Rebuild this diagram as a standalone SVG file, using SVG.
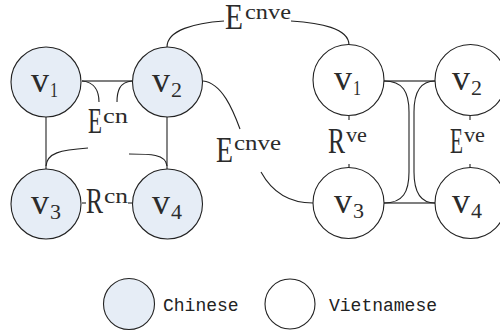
<svg xmlns="http://www.w3.org/2000/svg" width="500" height="334" viewBox="0 0 500 334">
<style>
.cn{fill:#e6edf6;stroke:#222;stroke-width:1.1}
.vn{fill:#fff;stroke:#222;stroke-width:1.1}
.e{fill:none;stroke:#222;stroke-width:1.1}
.g{fill:none;stroke:#555;stroke-width:1.7}
.m{font-family:"Liberation Serif","DejaVu Serif",serif;font-size:36px;fill:#2b2b2b}
.s{font-family:"Liberation Serif","DejaVu Serif",serif;font-size:20px;fill:#2b2b2b}
.p{font-family:"Liberation Serif","DejaVu Serif",serif;font-size:22px;fill:#2b2b2b}
.l{font-family:"Liberation Mono","DejaVu Sans Mono",monospace;font-size:18px;fill:#222}
</style>
<rect width="500" height="334" fill="#fff"/>
<g id="connectors">
<line class="e" x1="46" y1="117" x2="46" y2="169"/>
<line class="e" x1="167" y1="117" x2="167" y2="169"/>
<line class="g" x1="82" y1="81" x2="132" y2="81"/>
<path class="e" d="M82,81 C95,82 99,92 99,102"/>
<path class="e" d="M132,81 C119,82 117,92 117,102"/>
<path class="e" d="M46,166 C47,153 60,150 88,148"/>
<path class="e" d="M129,154 C150,154 166,154 167,166"/>
<line class="e" x1="82" y1="203" x2="86" y2="203"/>
<line class="e" x1="128" y1="203" x2="132" y2="203"/>
<path class="e" d="M167,47 C167,30 195,23 224,21"/>
<path class="e" d="M291,21 C320,23 349,28 349,45"/>
<path class="e" d="M203,81 C222,83 233,110 240,129"/>
<path class="e" d="M261,172 C272,192 290,203 313,203"/>
<line class="g" x1="384" y1="81" x2="435" y2="81"/>
<line class="g" x1="384" y1="203" x2="435" y2="203"/>
<path class="e" d="M384,81 C403,81 409,92 409,112 L409,172 C409,192 403,203 384,203"/>
<path class="e" d="M435,81 C420,81 414,92 414,112 L414,172 C414,192 420,203 435,203"/>
<line class="e" x1="349" y1="116" x2="349" y2="120"/>
<line class="e" x1="349" y1="164" x2="349" y2="168"/>
<line class="e" x1="470" y1="116" x2="470" y2="120"/>
<line class="e" x1="470" y1="164" x2="470" y2="168"/>
</g>
<g id="labels">
<text class="m" x="88" y="133" textLength="14" lengthAdjust="spacingAndGlyphs">E</text>
<text class="p" x="103" y="123" textLength="25" lengthAdjust="spacingAndGlyphs">cn</text>
<text class="m" x="86" y="213" textLength="17" lengthAdjust="spacingAndGlyphs">R</text>
<text class="p" x="104" y="203" textLength="24" lengthAdjust="spacingAndGlyphs">cn</text>
<text class="m" x="225" y="29" textLength="18" lengthAdjust="spacingAndGlyphs">E</text>
<text class="p" x="245" y="19" textLength="46" lengthAdjust="spacingAndGlyphs">cnve</text>
<text class="m" x="216" y="162" textLength="17" lengthAdjust="spacingAndGlyphs">E</text>
<text class="p" x="234" y="150" textLength="47" lengthAdjust="spacingAndGlyphs">cnve</text>
<text class="m" x="328" y="153" textLength="17" lengthAdjust="spacingAndGlyphs">R</text>
<text class="p" x="346" y="142" textLength="21" lengthAdjust="spacingAndGlyphs">ve</text>
<text class="m" x="450" y="153" textLength="13" lengthAdjust="spacingAndGlyphs">E</text>
<text class="p" x="464" y="142" textLength="21" lengthAdjust="spacingAndGlyphs">ve</text>
</g>
<g id="cn-v1"><circle class="cn" cx="46" cy="82" r="35"/><text class="m" x="31" y="92" textLength="18" lengthAdjust="spacingAndGlyphs">v</text><text class="s" x="50" y="97" textLength="8" lengthAdjust="spacingAndGlyphs">1</text></g>
<g id="cn-v2"><circle class="cn" cx="167.5" cy="82" r="35"/><text class="m" x="152" y="92" textLength="18" lengthAdjust="spacingAndGlyphs">v</text><text class="s" x="171" y="97" textLength="11" lengthAdjust="spacingAndGlyphs">2</text></g>
<g id="cn-v3"><circle class="cn" cx="46" cy="204" r="35"/><text class="m" x="31" y="214" textLength="18" lengthAdjust="spacingAndGlyphs">v</text><text class="s" x="50" y="219" textLength="11" lengthAdjust="spacingAndGlyphs">3</text></g>
<g id="cn-v4"><circle class="cn" cx="167.5" cy="204" r="35"/><text class="m" x="152" y="214" textLength="18" lengthAdjust="spacingAndGlyphs">v</text><text class="s" x="171" y="219" textLength="11" lengthAdjust="spacingAndGlyphs">4</text></g>
<g id="vn-v1"><circle class="vn" cx="348.5" cy="80" r="35.5"/><text class="m" x="334" y="90" textLength="18" lengthAdjust="spacingAndGlyphs">v</text><text class="s" x="353" y="95" textLength="8" lengthAdjust="spacingAndGlyphs">1</text></g>
<g id="vn-v2"><circle class="vn" cx="470.5" cy="80" r="35.5"/><text class="m" x="452" y="90" textLength="18" lengthAdjust="spacingAndGlyphs">v</text><text class="s" x="471" y="95" textLength="11" lengthAdjust="spacingAndGlyphs">2</text></g>
<g id="vn-v3"><circle class="vn" cx="348.5" cy="203" r="35.5"/><text class="m" x="334" y="213" textLength="18" lengthAdjust="spacingAndGlyphs">v</text><text class="s" x="353" y="218" textLength="11" lengthAdjust="spacingAndGlyphs">3</text></g>
<g id="vn-v4"><circle class="vn" cx="470.5" cy="203" r="35.5"/><text class="m" x="452" y="213" textLength="18" lengthAdjust="spacingAndGlyphs">v</text><text class="s" x="471" y="218" textLength="11" lengthAdjust="spacingAndGlyphs">4</text></g>
<g id="legend-chinese"><circle class="cn" cx="129" cy="304" r="25.5"/><text class="l" x="163" y="311">Chinese</text></g>
<g id="legend-vietnamese"><circle class="vn" cx="290" cy="304" r="25"/><text class="l" x="329" y="311">Vietnamese</text></g>
</svg>
